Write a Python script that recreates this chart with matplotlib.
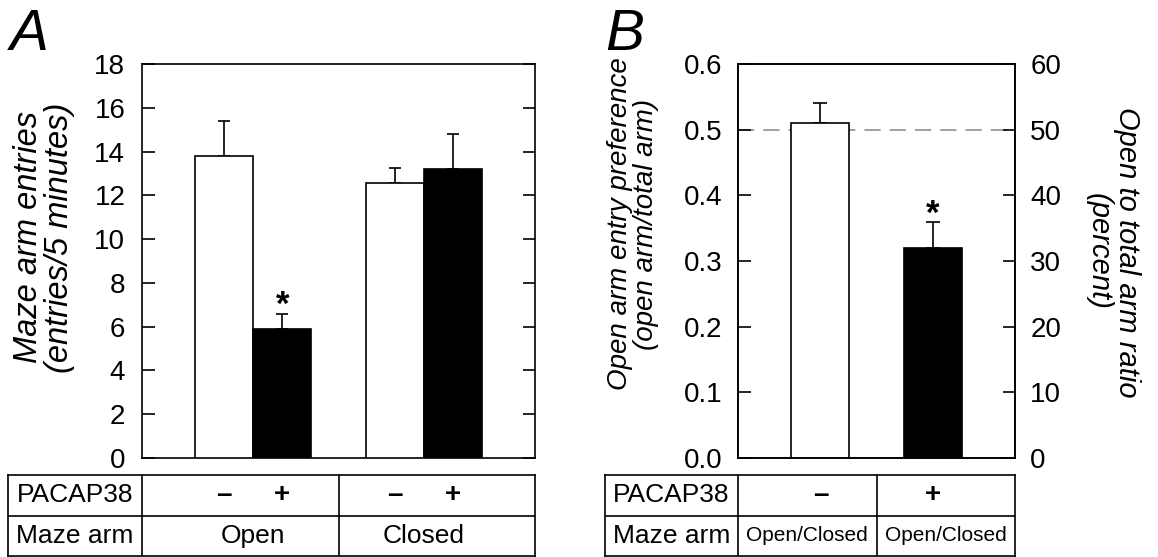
import numpy as np
import matplotlib
matplotlib.use('Agg')
import matplotlib.pyplot as plt

plt.rcParams['font.family'] = ['Liberation Sans', 'DejaVu Sans']

# panel A: maze arm entries (mean, upper SEM)
arm_groups = ['Open', 'Closed']
pacap_signs = ['\u2013', '+']
entries_ctrl = [13.8, 12.55]
entries_ctrl_sem = [1.6, 0.7]
entries_pacap = [5.9, 13.2]
entries_pacap_sem = [0.7, 1.6]
a_yticks = [0, 2, 4, 6, 8, 10, 12, 14, 16, 18]

# panel B: open arm entry preference
pref_groups = ['\u2013', '+']
pref_arm = ['Open/Closed', 'Open/Closed']
pref = [0.51, 0.32]
pref_sem = [0.03, 0.04]
b_yticks = [0.0, 0.1, 0.2, 0.3, 0.4, 0.5, 0.6]
b_pct_ticks = [0, 10, 20, 30, 40, 50, 60]

W, H = 1158, 557
fig = plt.figure(figsize=(W / 100, H / 100), dpi=100)


def rect(x0, x1, y0, y1):
    # pixel box -> figure fraction
    return [x0 / W, 1 - y1 / H, (x1 - x0) / W, (y1 - y0) / H]


LW = 1.2
TICK = dict(direction='in', length=9, width=LW, labelsize=20)


def style_axes(ax):
    for s in ax.spines.values():
        s.set_linewidth(LW)
    ax.tick_params(axis='x', bottom=False, labelbottom=False)


def draw_table(ax, xl, xr, hdr, row1, row2, row2_size=19):
    ax.set_xlim(xl, xr)
    ax.set_ylim(0, 2)
    ax.set_xticks([])
    ax.set_yticks([])
    for s in ax.spines.values():
        s.set_linewidth(LW)
    ax.axhline(1, color='black', lw=LW)
    ax.axvline(hdr, color='black', lw=LW)
    ax.axvline(0.5, color='black', lw=LW)
    cx = (xl + hdr) / 2
    ax.text(cx, 1.5, 'PACAP38', ha='center', va='center', fontsize=19)
    ax.text(cx, 0.5, 'Maze arm', ha='center', va='center', fontsize=19)
    for xx, t in row1:
        ax.text(xx, 1.5, t, ha='center', va='center', fontsize=20, fontweight='bold')
    for xx, t in row2:
        ax.text(xx, 0.5, t, ha='center', va='center', fontsize=row2_size)


# ---------------- panel A ----------------
axA = fig.add_axes(rect(142, 535, 64, 458))
x = np.arange(len(arm_groups))
w = 0.341
axA.bar(x - w / 2, entries_ctrl, w, color='white', edgecolor='black', lw=LW, zorder=3)
axA.bar(x + w / 2, entries_pacap, w, color='black', edgecolor='black', lw=LW, zorder=3)
axA.errorbar(x - w / 2, entries_ctrl, yerr=[np.zeros(2), entries_ctrl_sem], fmt='none',
             ecolor='black', elinewidth=LW, capsize=4.6, capthick=LW, zorder=2)
axA.errorbar(x + w / 2, entries_pacap, yerr=[np.zeros(2), entries_pacap_sem], fmt='none',
             ecolor='black', elinewidth=LW, capsize=4.6, capthick=LW, zorder=2)
axA.annotate('*', (x[0] + w / 2, entries_pacap[0] + entries_pacap_sem[0]), xytext=(0, -6),
             textcoords='offset points', ha='center', va='bottom', fontsize=25, fontweight='bold')
axA.set_xlim(-0.653, 1.653)
axA.set_ylim(0, 18)
axA.set_yticks(a_yticks)
axA.tick_params(axis='y', right=True, pad=12, **TICK)
style_axes(axA)
axA.set_ylabel('Maze arm entries\n(entries/5 minutes)', fontsize=23.5, style='italic', linespacing=1.0)
axA.yaxis.set_label_coords(-0.17, 0.56)

tabA = fig.add_axes(rect(8, 535, 475, 556))
draw_table(tabA, -0.653 - 134 / 170.4, 1.653, -0.653,
           [(xx + d * w / 2, s) for xx in x for d, s in zip((-1, 1), pacap_signs)],
           list(zip(x, arm_groups)))

# ---------------- panel B ----------------
axB = fig.add_axes(rect(738, 1015, 64, 458))
xb = np.arange(len(pref_groups))
wb = 0.516
axB.axhline(0.5, color='#9a9a9a', lw=1.3, dashes=(9, 5), zorder=1)
axB.bar(xb, pref, wb, color=['white', 'black'], edgecolor='black', lw=LW, zorder=3)
axB.errorbar(xb, pref, yerr=[np.zeros(2), pref_sem], fmt='none',
             ecolor='black', elinewidth=LW, capsize=5.2, capthick=LW, zorder=2)
axB.annotate('*', (xb[1], pref[1] + pref_sem[1]), xytext=(0, -7),
             textcoords='offset points', ha='center', va='bottom', fontsize=25, fontweight='bold')
axB.set_xlim(-0.735, 1.735)
axB.set_ylim(0, 0.6)
axB.set_yticks(b_yticks)
axB.set_yticklabels(['%.1f' % v for v in b_yticks])
axB.tick_params(axis='y', right=False, pad=11, **TICK)
style_axes(axB)
axB.set_ylabel('Open arm entry preference\n(open arm/total arm)', fontsize=20, style='italic',
               linespacing=1.0)
axB.yaxis.set_label_coords(-0.285, 0.594)

ax2 = axB.twinx()
ax2.set_ylim(0, 60)
ax2.set_yticks(b_pct_ticks)
ax2.tick_params(axis='y', pad=11, **TICK)
style_axes(ax2)
ax2.set_ylabel('Open to total arm ratio\n(percent)', fontsize=21, style='italic', rotation=270,
               va='bottom', linespacing=1.0)
ax2.yaxis.set_label_coords(1.253, 0.523)

tabB = fig.add_axes(rect(605, 1015, 475, 556))
xl_b, xr_b = -0.735 - 133 / 112.1, 1.735
cell_mid = [(-0.735 + 0.5) / 2, (0.5 + xr_b) / 2]
draw_table(tabB, xl_b, xr_b, -0.735,
           list(zip(xb, pref_groups)), list(zip(cell_mid, pref_arm)), row2_size=15)

fig.text(10 / W, 1 - 50 / H, 'A', fontsize=42, style='italic', va='baseline')
fig.text(605 / W, 1 - 50 / H, 'B', fontsize=42, style='italic', va='baseline')

fig.savefig('out.png', dpi=100)
